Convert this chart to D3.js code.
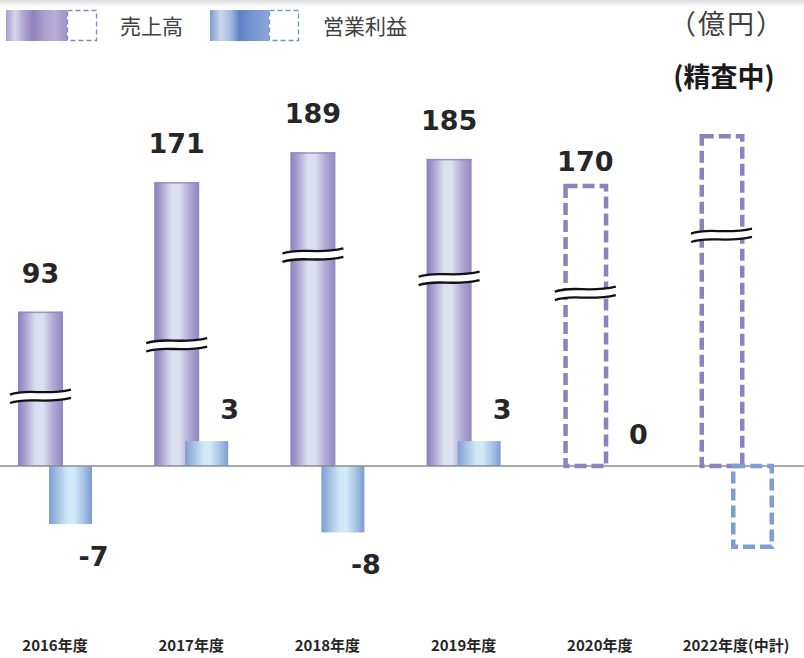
<!DOCTYPE html>
<html>
<head>
<meta charset="utf-8">
<script src="https://cdn.jsdelivr.net/npm/d3@7"></script>
<style>
  body { margin: 0; background: #fff; }
  svg { display: block; }
</style>
</head>
<body>
<svg id="chart" width="804" height="658"></svg>
<script>
// ---- data ----
const years   = ["2016年度", "2017年度", "2018年度", "2019年度", "2020年度", "2022年度(中計)"];
const sales   = [93, 171, 189, 185, 170, 200];   // 売上高 (億円)
const income  = [-7, 3, -8, 3, 0, -10];          // 営業利益 (億円)
const planned = [false, false, false, false, true, true];   // plan values drawn as dashed outlines
const labelled = [true, true, true, true, true, false];     // value labels shown
const breakAt = [42, 73, 127, 113, 104, 139];    // where the axis-break mark sits on each sales bar (億円)
const legendNames = ["売上高", "営業利益"];
const unitText = "（億円）";
const noteText = "(精査中)";

// ---- setup ----
const W = 804, H = 658;
const baseY = 466;
const svg = d3.select("#chart");
const defs = svg.append("defs");

const x = d3.scalePoint().domain(years).range([55, 736]);
const ySales = d3.scaleLinear().domain([0, d3.max(sales)]).range([baseY, 134]);
const yInc = d3.scaleLinear().domain([d3.min(income), 0]).range([549, baseY]);

const SW = 45, IW = 43;           // bar widths
const sx = c => x(c) - 37;        // sales bar left
const ix = c => x(c) - 6;         // income bar left

function hGrad(id, stops) {
  const g = defs.append("linearGradient").attr("id", id)
    .attr("x1", "0%").attr("x2", "100%").attr("y1", "0%").attr("y2", "0%");
  stops.forEach(([o, c]) => g.append("stop").attr("offset", o).attr("stop-color", c));
}
hGrad("salesGrad", [["0%", "#8b7ebd"], ["14%", "#a79cce"], ["38%", "#d9ddef"], ["55%", "#dce1f0"], ["78%", "#b2a9d4"], ["100%", "#9385c2"]]);
hGrad("incGrad", [["0%", "#7e9ed2"], ["18%", "#9fbde3"], ["42%", "#cfe7f6"], ["58%", "#d3eaf7"], ["82%", "#a3c0e4"], ["100%", "#7d9cd1"]]);
hGrad("salesLegGrad", [["0%", "#a99ecd"], ["15%", "#d9d5eb"], ["30%", "#aca1cf"], ["45%", "#9182bf"], ["62%", "#a99ecd"], ["80%", "#b8aed7"], ["100%", "#9f93c8"]]);
hGrad("incLegGrad", [["0%", "#7d9bd1"], ["18%", "#cad7ec"], ["35%", "#a3b9e0"], ["50%", "#5b81c5"], ["70%", "#7494cf"], ["100%", "#8ba6d8"]]);

const shadow = defs.append("linearGradient").attr("id", "topShade")
  .attr("x1", "0%").attr("x2", "0%").attr("y1", "0%").attr("y2", "100%");
shadow.append("stop").attr("offset", "0%").attr("stop-color", "#dedede");
shadow.append("stop").attr("offset", "100%").attr("stop-color", "#ffffff");
svg.append("rect").attr("x", 0).attr("y", 0).attr("width", W).attr("height", 7)
  .attr("fill", "url(#topShade)");

// ---- sales bars ----
const rows = years.map((c, i) => ({ c, s: sales[i], v: income[i], plan: planned[i], lab: labelled[i], br: breakAt[i] }));

const actual = rows.filter(d => !d.plan);
svg.append("g").selectAll("rect").data(actual).join("rect")
  .attr("x", d => sx(d.c)).attr("width", SW)
  .attr("y", d => ySales(d.s)).attr("height", d => baseY - ySales(d.s))
  .attr("fill", "url(#salesGrad)");
svg.append("g").selectAll("rect").data(actual).join("rect")
  .attr("x", d => sx(d.c)).attr("width", SW)
  .attr("y", d => ySales(d.s)).attr("height", 1.5)
  .attr("fill", "#9283c2").attr("opacity", 0.8);

// ---- income bars ----
svg.append("g").selectAll("rect").data(actual).join("rect")
  .attr("x", d => ix(d.c)).attr("width", IW)
  .attr("y", d => Math.min(yInc(d.v), baseY)).attr("height", d => Math.abs(yInc(d.v) - baseY))
  .attr("fill", "url(#incGrad)");

// ---- baseline ----
svg.append("line").attr("x1", 0).attr("x2", W).attr("y1", baseY).attr("y2", baseY)
  .attr("stroke", "#8c8c8c").attr("stroke-width", 1.3);

// ---- planned values as dashed outlines ----
const plans = rows.filter(d => d.plan);
const sw = 4.5;
svg.append("g").selectAll("rect").data(plans).join("rect")
  .attr("x", d => sx(d.c) + sw / 2 + 0.5).attr("width", SW - sw)
  .attr("y", d => ySales(d.s) + sw / 2).attr("height", d => baseY - ySales(d.s) - sw / 2)
  .attr("fill", "none").attr("stroke", "#8f80c0").attr("stroke-width", sw)
  .attr("stroke-dasharray", "12,5");
svg.append("g").selectAll("rect").data(plans.filter(d => d.v !== 0)).join("rect")
  .attr("x", d => ix(d.c) + sw / 2 + 1).attr("width", IW - sw)
  .attr("y", d => Math.min(yInc(d.v), baseY)).attr("height", d => Math.abs(yInc(d.v) - baseY) - sw / 2)
  .attr("fill", "none").attr("stroke", "#7c9ed4").attr("stroke-width", sw)
  .attr("stroke-dasharray", "12,5");

// ---- axis-break marks ----
function wave(x0, x1, y) {
  const w = x1 - x0;
  return `M${x0},${y + 2.5} C${x0 + w * 0.3},${y - 4} ${x0 + w * 0.55},${y + 4} ${x1},${y - 2.5}`;
}
const brk = svg.append("g");
rows.forEach(d => {
  const yb = ySales(d.br);
  const x0 = x(d.c) - 45, x1 = x(d.c) + 16;
  brk.append("path").attr("d", wave(x0, x1, yb)).attr("fill", "none")
    .attr("stroke", "#fff").attr("stroke-width", 8);
  brk.append("path").attr("d", wave(x0, x1, yb - 4.2)).attr("fill", "none")
    .attr("stroke", "#111").attr("stroke-width", 2.3);
  brk.append("path").attr("d", wave(x0, x1, yb + 4.2)).attr("fill", "none")
    .attr("stroke", "#111").attr("stroke-width", 2.3);
});

// ---- value labels ----
const numFont = "'DejaVu Sans', sans-serif";
svg.append("g").selectAll("text").data(rows.filter(d => d.lab)).join("text")
  .attr("x", d => sx(d.c) + SW / 2)
  .attr("y", d => ySales(d.s) - (d.plan ? 13 : 29))
  .attr("text-anchor", "middle")
  .attr("font-family", numFont).attr("font-weight", "bold").attr("font-size", 27)
  .attr("fill", "#262626")
  .text(d => d.s);
svg.append("g").selectAll("text").data(rows.filter(d => d.lab)).join("text")
  .attr("x", d => ix(d.c) + IW / 2 + 23)
  .attr("y", d => d.v >= 0 ? yInc(d.v) - 22 : yInc(d.v) + 42)
  .attr("text-anchor", "middle")
  .attr("font-family", numFont).attr("font-weight", "bold").attr("font-size", 27)
  .attr("fill", "#262626")
  .text(d => d.v);

// ---- category labels ----
svg.append("g").selectAll("text").data(years).join("text")
  .attr("x", d => x(d)).attr("y", 651)
  .attr("text-anchor", "middle")
  .attr("font-family", "'Noto Sans CJK JP', sans-serif").attr("font-weight", "bold")
  .attr("font-size", 15).attr("fill", "#262626")
  .text(d => d);

// ---- legend ----
const cjk = "'Noto Sans CJK JP', sans-serif";
const leg = svg.append("g");
[[6, 61, "salesLegGrad", "#8f80c0", 120], [210, 59, "incLegGrad", "#6f93cf", 323]].forEach(([lx, lw, g, dc, tx], i) => {
  leg.append("rect").attr("x", lx).attr("y", 10).attr("width", lw).attr("height", 31).attr("fill", `url(#${g})`);
  leg.append("rect").attr("x", lx + lw + 0.5).attr("y", 10.5).attr("width", 29).attr("height", 30)
    .attr("fill", "#fff").attr("stroke", dc).attr("stroke-width", 1.3).attr("stroke-dasharray", "5,3");
  leg.append("text").attr("x", tx).attr("y", 34)
    .attr("font-family", cjk).attr("font-size", 21).attr("fill", "#404040")
    .text(legendNames[i]);
});

// ---- unit and note ----
svg.append("text").attr("x", 727).attr("y", 34).attr("text-anchor", "middle")
  .attr("font-family", cjk).attr("font-size", 27).attr("letter-spacing", 2).attr("fill", "#404040")
  .text(unitText);
svg.append("text").attr("x", 724).attr("y", 87).attr("text-anchor", "middle")
  .attr("font-family", cjk).attr("font-weight", "bold").attr("font-size", 27).attr("fill", "#1a1a1a")
  .text(noteText);
</script>
</body>
</html>
